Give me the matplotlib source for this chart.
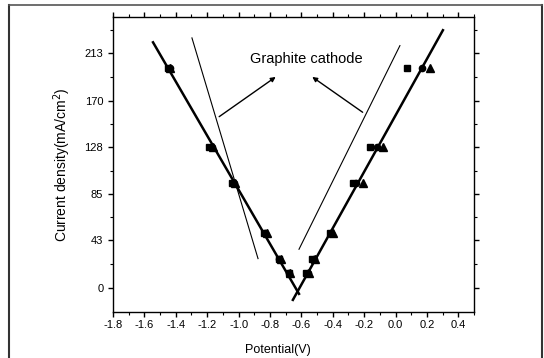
import numpy as np
import matplotlib.pyplot as plt
from matplotlib.ticker import MultipleLocator, FixedLocator
from matplotlib.lines import Line2D

plt.rcParams['font.family'] = ['Liberation Sans', 'DejaVu Sans']
plt.rcParams['axes.unicode_minus'] = False

# measured points (potential V, current density mA/cm2)
y_levels = [200, 128, 95, 50, 26, 13, 13, 26, 50, 95, 128, 200]
x_square = [-1.45, -1.19, -1.04, -0.84, -0.74, -0.68, -0.57, -0.53, -0.42, -0.27, -0.16, 0.07]
x_circle = [-1.44, -1.17, -1.03, -0.83, -0.74, -0.68, -0.56, -0.52, -0.41, -0.25, -0.12, 0.17]
x_triangle = [-1.44, -1.16, -1.02, -0.82, -0.73, -0.67, -0.55, -0.51, -0.40, -0.21, -0.08, 0.22]

# fitted lines (thick) and tangent guides (thin)
fit_left_x, fit_left_y = [-1.545, -0.615], [223, -5.5]
fit_right_x, fit_right_y = [-0.654, 0.302], [-11, 234]
guide_left_x, guide_left_y = [-1.297, -0.876], [227, 26.5]
guide_right_x, guide_right_y = [-0.615, 0.028], [35, 220]

yticks = [0, 43, 85, 128, 170, 213]
xticks = [-1.8, -1.6, -1.4, -1.2, -1.0, -0.8, -0.6, -0.4, -0.2, 0.0, 0.2, 0.4]

W, H = 544, 358
fig = plt.figure(figsize=(W / 100, H / 100), dpi=100)
ax = fig.add_axes([113 / W, 1 - 312 / H, (474 - 113) / W, (312 - 17) / H])

# outer frame around the figure
fig.add_artist(Line2D([9 / W, 9 / W], [0, 1 - 4.5 / H], transform=fig.transFigure, color='#333333', lw=1.5))
fig.add_artist(Line2D([542 / W, 542 / W], [0, 1 - 4.5 / H], transform=fig.transFigure, color='#333333', lw=1.5))
fig.add_artist(Line2D([9 / W, 542 / W], [1 - 4.5 / H, 1 - 4.5 / H], transform=fig.transFigure, color='#555555', lw=1.2))

ax.plot(fit_left_x, fit_left_y, color='black', lw=1.8)
ax.plot(fit_right_x, fit_right_y, color='black', lw=1.8)
ax.plot(guide_left_x, guide_left_y, color='black', lw=0.8)
ax.plot(guide_right_x, guide_right_y, color='black', lw=0.8)

ax.plot(x_square, y_levels, ls='none', marker='s', ms=4.5, color='black')
ax.plot(x_circle, y_levels, ls='none', marker='o', ms=4.5, color='black')
ax.plot(x_triangle, y_levels, ls='none', marker='^', ms=5.5, color='black')

ax.text(-0.571, 208, 'Graphite cathode', fontsize=10.5, ha='center', va='center')
arrow = dict(arrowstyle='-|>', color='black', lw=1.0, mutation_scale=7)
ax.annotate('', xy=(-0.749, 193), xytext=(-1.138, 154), arrowprops=arrow)
ax.annotate('', xy=(-0.545, 193), xytext=(-0.195, 158), arrowprops=arrow)

ax.set_xlim(-1.8, 0.5)
ax.set_ylim(-22, 246)
ax.xaxis.set_major_locator(FixedLocator(xticks))
ax.xaxis.set_minor_locator(MultipleLocator(0.1))
ax.yaxis.set_major_locator(FixedLocator(yticks))
ax.yaxis.set_minor_locator(FixedLocator([21.5, 64, 106.5, 149, 191.5, 234.5]))
ax.set_xticklabels([f'{v:.1f}' for v in xticks])
ax.set_yticklabels([str(v) for v in yticks])

ax.tick_params(which='both', bottom=True, left=True, top=True, right=True, labelsize=8)
ax.tick_params(axis='x', which='major', length=3.5, width=1, pad=2.5)
ax.tick_params(axis='y', which='major', length=3.5, width=1)
ax.tick_params(which='minor', length=2, width=0.8)
for spine in ax.spines.values():
    spine.set_linewidth(1.0)

ax.set_xlabel('Potential(V)', fontsize=9)
ax.set_ylabel('Current density(mA/cm$^2$)', fontsize=10)
ax.xaxis.set_label_coords((278 - 113) / (474 - 113), -(344 - 312) / (312 - 17))
ax.yaxis.set_label_coords(-(113 - 73) / (474 - 113), 0.5)

fig.savefig('out.png', dpi=100)
